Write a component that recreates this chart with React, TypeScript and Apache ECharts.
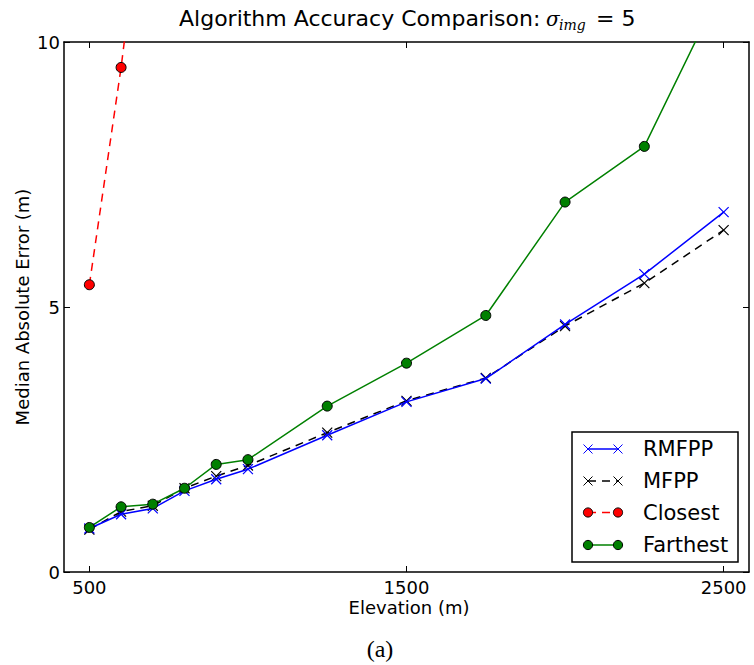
import React, { useEffect, useRef } from "react";
import * as echarts from "echarts";

const elevations = [500, 600, 700, 800, 900, 1000, 1250, 1500, 1750, 2000, 2250, 2500];
const rmfppValues = [0.82, 1.09, 1.2, 1.53, 1.75, 1.94, 2.58, 3.21, 3.65, 4.67, 5.62, 6.79];
const mfppValues = [0.8, 1.14, 1.25, 1.58, 1.81, 2.01, 2.63, 3.23, 3.66, 4.64, 5.45, 6.45];
const closestElevations = [500, 600, 700];
const closestValues = [5.42, 9.52, 14.3];
const farthestValues = [0.84, 1.23, 1.28, 1.58, 2.03, 2.12, 3.13, 3.94, 4.84, 6.98, 8.03, 11.1];
const xTicks = [500, 1500, 2500];
const yTicks = [0, 5, 10];
const legendNames = ["RMFPP", "MFPP", "Closest", "Farthest"];

const FONT = "DejaVu Sans";
const X_SYMBOL = "path://M0,0L10,10M10,0L0,10";

function pairs(xs: number[], ys: number[]) {
  return xs.map((x, i) => [x, ys[i]]);
}

function legendGraphics() {
  const els: any[] = [];
  const boxX = 572, boxY = 432, boxW = 166, boxH = 130;
  els.push({
    type: "rect",
    shape: { x: boxX, y: boxY, width: boxW, height: boxH },
    style: { fill: "#fff", stroke: "#000", lineWidth: 1.5 },
    z: 100,
  });
  const rows = [449, 481, 512.5, 545];
  const x1 = 588, x2 = 618;
  const cfg = [
    { color: "#0000ff", dash: null, marker: "x", fill: "" },
    { color: "#000000", dash: [8, 6], marker: "x", fill: "" },
    { color: "#ff0000", dash: [8, 6], marker: "o", fill: "#ff0000" },
    { color: "#008000", dash: null, marker: "o", fill: "#008000" },
  ];
  cfg.forEach((c, i) => {
    const y = rows[i];
    els.push({
      type: "line",
      shape: { x1, y1: y, x2, y2: y },
      style: { stroke: c.color, lineWidth: 1.5, lineDash: c.dash || undefined },
      z: 101,
    });
    [x1, x2].forEach((mx) => {
      if (c.marker === "x") {
        const h = 4.5;
        els.push({ type: "line", shape: { x1: mx - h, y1: y - h, x2: mx + h, y2: y + h }, style: { stroke: c.color, lineWidth: 1 }, z: 102 });
        els.push({ type: "line", shape: { x1: mx - h, y1: y + h, x2: mx + h, y2: y - h }, style: { stroke: c.color, lineWidth: 1 }, z: 102 });
      } else {
        els.push({ type: "circle", shape: { cx: mx, cy: y, r: 4.6 }, style: { fill: c.fill, stroke: "#000", lineWidth: 1 }, z: 102 });
      }
    });
    els.push({
      type: "text",
      x: 643,
      y: y,
      style: { text: legendNames[i], fontFamily: FONT, fontSize: 21, fill: "#000", align: "left", verticalAlign: "middle" },
      z: 102,
    });
  });
  return els;
}

export default function App() {
  const ref = useRef<HTMLDivElement>(null);
  useEffect(() => {
    if (!ref.current) return;
    const chart = echarts.init(ref.current, null, { renderer: "svg" });
    const axisLine = { show: true, onZero: false, lineStyle: { color: "#000", width: 1.5 } };
    const mkX = (pos: string, labels: boolean) => ({
      type: "value",
      position: pos,
      min: 420,
      max: 2580,
      axisLine,
      splitLine: { show: false },
      axisTick: { show: true, inside: true, length: 6, customValues: xTicks, lineStyle: { color: "#000", width: 1 } },
      axisLabel: { show: labels, customValues: xTicks, formatter: (v: number) => String(v), fontFamily: FONT, fontSize: 18, color: "#000", margin: 6 },
    });
    const mkY = (pos: string, labels: boolean) => ({
      type: "value",
      position: pos,
      min: 0,
      max: 10,
      interval: 5,
      axisLine,
      splitLine: { show: false },
      axisTick: { show: true, inside: true, length: 6, customValues: yTicks, lineStyle: { color: "#000", width: 1 } },
      axisLabel: { show: labels, customValues: yTicks, formatter: (v: number) => String(v), fontFamily: FONT, fontSize: 18, color: "#000", margin: 4 },
    });
    const xSeries = (name: string, data: number[][], color: string, dashed: boolean, z: number) => ({
      name,
      type: "line",
      data,
      z,
      clip: true,
      symbol: X_SYMBOL,
      symbolSize: 10,
      showSymbol: true,
      lineStyle: { color, width: 1.5, type: dashed ? [8, 6] : "solid" },
      itemStyle: { color: "transparent", borderColor: color, borderWidth: 1.2 },
    });
    const oSeries = (name: string, data: number[][], color: string, dashed: boolean, z: number) => ({
      name,
      type: "line",
      data,
      z,
      clip: true,
      symbol: "circle",
      symbolSize: 10,
      showSymbol: true,
      lineStyle: { color, width: 1.5, type: dashed ? [8, 6] : "solid" },
      itemStyle: { color, borderColor: "#000", borderWidth: 1 },
    });
    chart.setOption({
      animation: false,
      backgroundColor: "#fff",
      grid: { left: 64, top: 42, right: 5, bottom: 93, containLabel: false },
      xAxis: [mkX("bottom", true), mkX("top", false)],
      yAxis: [mkY("left", true), mkY("right", false)],
      series: [
        xSeries("RMFPP", pairs(elevations, rmfppValues), "#0000ff", false, 3),
        xSeries("MFPP", pairs(elevations, mfppValues), "#000000", true, 2),
        oSeries("Closest", pairs(closestElevations, closestValues), "#ff0000", true, 4),
        oSeries("Farthest", pairs(elevations, farthestValues), "#008000", false, 5),
      ],
      graphic: [
        { type: "text", x: 179, y: 18, style: { text: "Algorithm Accuracy Comparison:", fontFamily: FONT, fontSize: 22, fill: "#000", align: "left", verticalAlign: "middle" } },
        { type: "text", x: 546, y: 19, style: { text: "σ", fontFamily: "DejaVu Serif", fontStyle: "italic", fontSize: 20, fill: "#000", align: "left", verticalAlign: "middle" } },
        { type: "text", x: 559, y: 25, style: { text: "img", fontFamily: "DejaVu Serif", fontStyle: "italic", fontSize: 14, fill: "#000", align: "left", verticalAlign: "middle" } },
        { type: "text", x: 596, y: 18, style: { text: "= 5", fontFamily: FONT, fontSize: 22, fill: "#000", align: "left", verticalAlign: "middle" } },
        { type: "text", x: 409, y: 607, style: { text: "Elevation (m)", fontFamily: FONT, fontSize: 18, fill: "#000", align: "center", verticalAlign: "middle" } },
        { type: "text", x: 22, y: 307, rotation: Math.PI / 2, style: { text: "Median Absolute Error (m)", fontFamily: FONT, fontSize: 18, fill: "#000", align: "center", verticalAlign: "middle" } },
        { type: "text", x: 380, y: 649, style: { text: "(a)", fontFamily: "Liberation Serif", fontSize: 24, fill: "#000", align: "center", verticalAlign: "middle" } },
        ...legendGraphics(),
      ],
    });
    return () => chart.dispose();
  }, []);
  return <div ref={ref} style={{ width: 754, height: 665, position: "absolute", left: 0, top: 0 }} />;
}
